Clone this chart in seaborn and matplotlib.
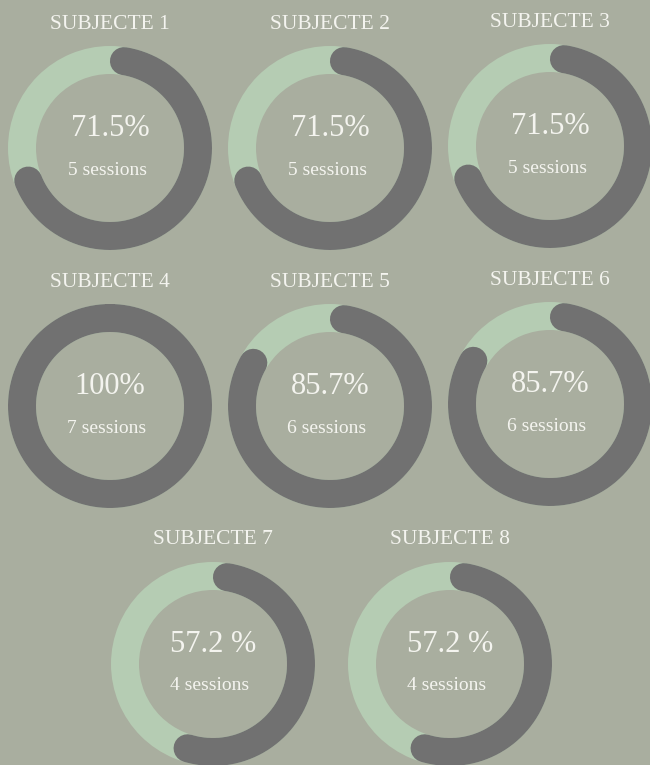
import numpy as np
import pandas as pd
import matplotlib
matplotlib.use("Agg")
import matplotlib.pyplot as plt
import seaborn as sns

# --- Data ---
subjects = ["SUBJECTE 1", "SUBJECTE 2", "SUBJECTE 3", "SUBJECTE 4",
            "SUBJECTE 5", "SUBJECTE 6", "SUBJECTE 7", "SUBJECTE 8"]
percents = [71.5, 71.5, 71.5, 100.0, 85.7, 85.7, 57.2, 57.2]
pct_labels = ["71.5%", "71.5%", "71.5%", "100%", "85.7%", "85.7%", "57.2 %", "57.2 %"]
sessions = [5, 5, 5, 7, 6, 6, 4, 4]

# --- Layout / style ---
W, H, DPI = 650, 765, 100
centers = [(110, 148), (330, 148), (550, 146),
           (110, 406), (330, 406), (550, 404),
           (213, 664), (450, 664)]
R_OUT, RING = 102, 28
R_MID = R_OUT - RING / 2
BG = "#a9ae9f"
DARK = "#717171"
LIGHT = "#b5ccb3"
TXT = "#f4f4ef"

sns.set_theme(style="white", rc={"figure.facecolor": BG, "axes.facecolor": BG})
plt.rcParams["font.family"] = ["Liberation Serif", "DejaVu Serif"]

fig = plt.figure(figsize=(W / DPI, H / DPI), dpi=DPI)
ax = fig.add_axes([0, 0, 1, 1])

lw_pt = RING * 72 / DPI
cap = (RING / 2) / R_MID  # angular size of round cap

for name, p, lab, n, (cx, cy) in zip(subjects, percents, pct_labels, sessions, centers):
    # light background ring
    ax.pie([1], radius=R_OUT, center=(cx, cy), colors=[LIGHT],
           wedgeprops=dict(width=RING, linewidth=0))
    # dark progress arc, clockwise from 12 o'clock with round caps
    end = 2 * np.pi * p / 100
    if p >= 100:
        th = np.linspace(0, 2 * np.pi, 400)
    else:
        th = np.linspace(cap, end - cap, 400)
    arc = pd.DataFrame({"x": cx + R_MID * np.sin(th), "y": cy - R_MID * np.cos(th)})
    sns.lineplot(data=arc, x="x", y="y", sort=False, ax=ax, color=DARK,
                 linewidth=lw_pt, solid_capstyle="round", estimator=None)
    ax.text(cx, cy - 124, name, ha="center", va="center", color=TXT, fontsize=15.5)
    ax.text(cx, cy - 20, lab, ha="center", va="center", color=TXT, fontsize=22)
    ax.text(cx - 3, cy + 22, f"{n} sessions", ha="center", va="center", color=TXT, fontsize=14)

ax.set_xlim(0, W)
ax.set_ylim(H, 0)
ax.set_aspect("equal")
ax.set_axis_off()

fig.savefig("out.png", dpi=DPI, facecolor=BG)
